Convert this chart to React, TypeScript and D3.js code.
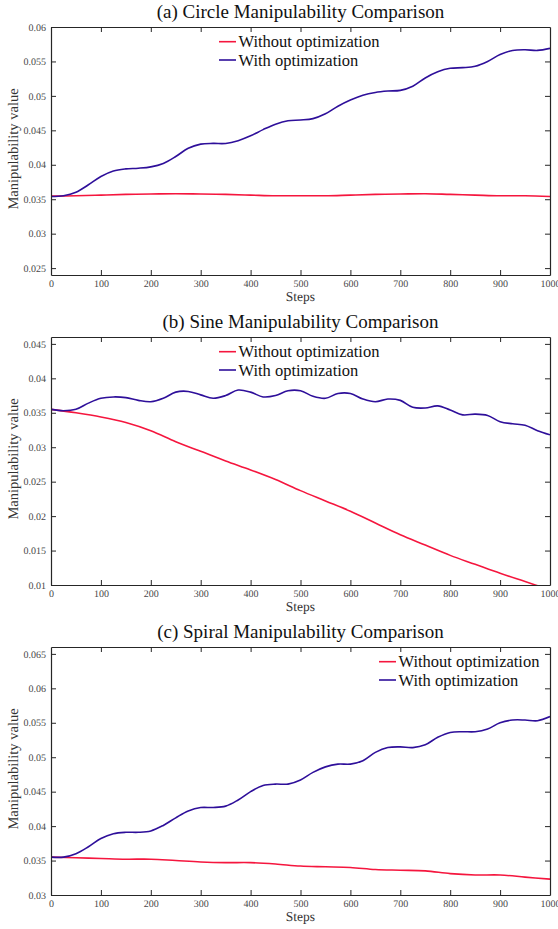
import { useEffect, useRef } from "react"
import * as d3 from "d3"

// sampled x positions (steps)
const steps = [0, 25, 50, 75, 100, 125, 150, 175, 200, 225, 250, 275, 300, 325, 350, 375, 400, 425, 450, 475, 500,
    525, 550, 575, 600, 625, 650, 675, 700, 725, 750, 775, 800, 825, 850, 875, 900, 925, 950, 975, 1000]
const steps50 = [0, 50, 100, 150, 200, 250, 300, 350, 400, 450, 500, 550, 600, 650, 700, 750, 800, 850, 900, 950, 1000]
const xTicks = [0, 100, 200, 300, 400, 500, 600, 700, 800, 900, 1000]

// (a) circle
const circleWithout = [0.03545, 0.0355, 0.0356, 0.0357, 0.03575, 0.0358, 0.03575, 0.0357, 0.0356, 0.0355, 0.0355,
    0.0355, 0.0356, 0.0357, 0.03575, 0.0358, 0.0357, 0.0356, 0.0355, 0.0355, 0.0354]
const circleWith = [0.0354, 0.0355, 0.0360, 0.0371, 0.0383, 0.0391, 0.0394, 0.0395, 0.0397, 0.0402, 0.0412, 0.0424,
    0.0430, 0.0431, 0.0431, 0.0435, 0.0442, 0.0451, 0.0459, 0.0464, 0.0465, 0.0467, 0.0474, 0.0485, 0.0494, 0.0501,
    0.0505, 0.0507, 0.0508, 0.0514, 0.0526, 0.0535, 0.0540, 0.0541, 0.0543, 0.0550, 0.0560, 0.0566, 0.0567, 0.0566, 0.0569]
const circleYTicks = [0.025, 0.03, 0.035, 0.04, 0.045, 0.05, 0.055, 0.06]

// (b) sine
const sineWithout = [0.0355, 0.0350, 0.0344, 0.0336, 0.0324, 0.0308, 0.0294, 0.0280, 0.0267, 0.0253, 0.0237,
    0.0222, 0.0207, 0.0190, 0.0173, 0.0158, 0.0143, 0.0130, 0.0117, 0.0105, 0.0093]
const sineWith = [0.0355, 0.0353, 0.0355, 0.0364, 0.0371, 0.0373, 0.0372, 0.0368, 0.0366, 0.0371, 0.0380, 0.0381,
    0.0376, 0.0371, 0.0375, 0.0383, 0.0380, 0.0373, 0.0375, 0.0382, 0.0382, 0.0374, 0.0371, 0.0378, 0.0378, 0.0370,
    0.0366, 0.0370, 0.0368, 0.0358, 0.0357, 0.0360, 0.0354, 0.0347, 0.0348, 0.0346, 0.0337, 0.0334, 0.0332, 0.0324, 0.0318]
const sineYTicks = [0.01, 0.015, 0.02, 0.025, 0.03, 0.035, 0.04, 0.045]

// (c) spiral
const spiralWithout = [0.0355, 0.0354, 0.0353, 0.0352, 0.0352, 0.0350, 0.0348, 0.0347, 0.0347, 0.0345, 0.0342,
    0.0341, 0.0340, 0.0337, 0.0336, 0.0335, 0.0331, 0.0329, 0.0329, 0.0326, 0.0323]
const spiralWith = [0.0355, 0.0355, 0.0360, 0.0370, 0.0382, 0.0389, 0.0391, 0.0391, 0.0393, 0.0401, 0.0412, 0.0422,
    0.0427, 0.0427, 0.0429, 0.0438, 0.0450, 0.0459, 0.0461, 0.0461, 0.0467, 0.0478, 0.0486, 0.0490, 0.0490, 0.0495,
    0.0507, 0.0514, 0.0515, 0.0514, 0.0518, 0.0529, 0.0536, 0.0537, 0.0537, 0.0541, 0.0550, 0.0554, 0.0554, 0.0553, 0.0559]
const spiralYTicks = [0.03, 0.035, 0.04, 0.045, 0.05, 0.055, 0.06, 0.065]

const titles = ["(a) Circle Manipulability Comparison", "(b) Sine Manipulability Comparison", "(c) Spiral Manipulability Comparison"]
const legendLabels = ["Without optimization", "With optimization"]
const colors = ["#f5163e", "#2e0f9a"]

const panels = [
    { title: titles[0], top: 27, domain: [0.024, 0.06], yTicks: circleYTicks, red: circleWithout, blue: circleWith, legendX: 219 },
    { title: titles[1], top: 337, domain: [0.01, 0.046], yTicks: sineYTicks, red: sineWithout, blue: sineWith, legendX: 219 },
    { title: titles[2], top: 647, domain: [0.03, 0.066], yTicks: spiralYTicks, red: spiralWithout, blue: spiralWith, legendX: 379 },
]

const left = 51, right = 550, plotH = 248
const font = "'Liberation Serif', serif"

const App = () => {
    const ref = useRef<SVGSVGElement>(null)

    useEffect(() => {
        const svg = d3.select(ref.current)
        svg.selectAll("*").remove()
        const x = d3.scaleLinear().domain([0, 1000]).range([left, right])

        panels.forEach((p, i) => {
            const bottom = p.top + plotH
            const y = d3.scaleLinear().domain(p.domain).range([bottom, p.top])
            const g = svg.append("g")

            g.append("clipPath").attr("id", "clip" + i)
                .append("rect")
                .attr("x", left).attr("y", p.top)
                .attr("width", right - left).attr("height", plotH)

            const line = d3.line<[number, number]>()
                .curve(d3.curveCatmullRom.alpha(0.5))
                .x(d => x(d[0]))
                .y(d => y(d[1]))

            const series = [
                p.red.map((v, k) => [steps50[k], v] as [number, number]),
                p.blue.map((v, k) => [steps[k], v] as [number, number]),
            ]
            series.forEach((s, k) => {
                g.append("path")
                    .datum(s)
                    .attr("clip-path", `url(#clip${i})`)
                    .attr("fill", "none")
                    .attr("stroke", colors[k])
                    .attr("stroke-width", 1.6)
                    .attr("d", line)
            })

            // axes, ticks pointing inward
            const styleAxis = (a: d3.Selection<SVGGElement, unknown, null, undefined>) => {
                a.attr("font-family", font).attr("font-size", 10)
                a.select(".domain").attr("stroke", "#262626").attr("stroke-width", 1.2)
                a.selectAll(".tick line").attr("stroke", "#262626").attr("stroke-width", 1)
                a.selectAll("text").attr("fill", "#4a4a4a").attr("text-rendering", "geometricPrecision")
            }
            g.append("g").attr("transform", `translate(0,${bottom})`)
                .call(d3.axisBottom(x).tickValues(xTicks).tickSize(-5).tickSizeOuter(0).tickPadding(5)
                    .tickFormat(d => String(d)))
                .call(styleAxis)
            g.append("g").attr("transform", `translate(0,${p.top})`)
                .call(d3.axisTop(x).tickValues(xTicks.slice(1, -1)).tickSize(-5).tickSizeOuter(0).tickFormat(() => ""))
                .call(styleAxis)
            g.append("g").attr("transform", `translate(${left},0)`)
                .call(d3.axisLeft(y).tickValues(p.yTicks).tickSize(-5).tickSizeOuter(0).tickPadding(5)
                    .tickFormat(d => String(d)))
                .call(styleAxis)
            g.append("g").attr("transform", `translate(${right},0)`)
                .call(d3.axisRight(y).tickValues(p.yTicks).tickSize(-5).tickSizeOuter(0).tickFormat(() => ""))
                .call(styleAxis)

            g.append("text")
                .attr("x", (left + right) / 2).attr("y", p.top - 8.7)
                .attr("text-anchor", "middle")
                .attr("font-family", font).attr("font-size", 19)
                .attr("fill", "#111")
                .text(p.title)

            g.append("text")
                .attr("x", (left + right) / 2).attr("y", bottom + 26)
                .attr("text-anchor", "middle")
                .attr("font-family", font).attr("font-size", 13.5)
                .attr("fill", "#333").attr("text-rendering", "geometricPrecision")
                .text("Steps")

            g.append("text")
                .attr("transform", `translate(18,${p.top + plotH / 2 - 2}) rotate(-90)`)
                .attr("text-anchor", "middle")
                .attr("font-family", font).attr("font-size", 14.5)
                .attr("fill", "#333").attr("text-rendering", "geometricPrecision")
                .text("Manipulability value")

            // legend
            legendLabels.forEach((lab, k) => {
                const ly = p.top + 14.7 + k * 18.3
                g.append("line")
                    .attr("x1", p.legendX).attr("x2", p.legendX + 17)
                    .attr("y1", ly).attr("y2", ly)
                    .attr("stroke", colors[k]).attr("stroke-width", 1.6)
                g.append("text")
                    .attr("x", p.legendX + 19.5).attr("y", ly + 5.5)
                    .attr("font-family", font).attr("font-size", 16.5)
                    .attr("fill", "#111")
                    .text(lab)
            })
        })
    }, [])

    return <svg ref={ref} width={558} height={929} style={{ position: "absolute", left: 0, top: 0, background: "white" }} />
}

export default App
